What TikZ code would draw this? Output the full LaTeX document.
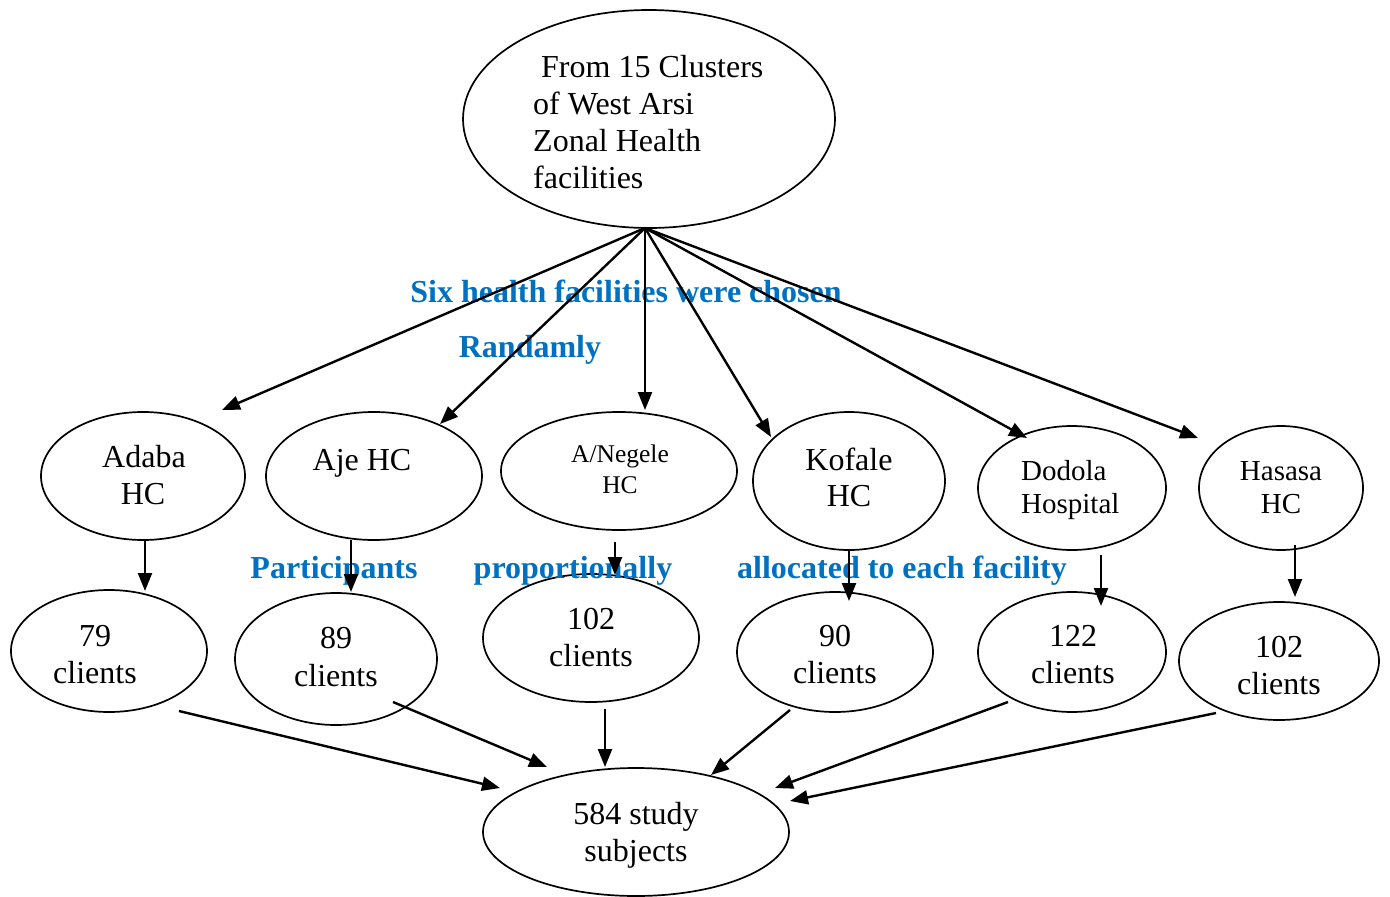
\documentclass[tikz,border=0pt]{standalone}
\usepackage{fontspec}
\setmainfont{Liberation Serif}
\usetikzlibrary{shapes.geometric,arrows.meta}
\definecolor{blu}{HTML}{0070C0}
\tikzset{
  ell/.style={draw,ellipse,line width=1.7pt,inner sep=0pt},
  txt/.style={font=\fontsize{32}{38}\selectfont, anchor=base, inner sep=0pt},
  txtw/.style={txt, anchor=base west},
  sml/.style={txt, font=\fontsize{25.5}{30}\selectfont},
  mid/.style={txt, font=\fontsize{29}{33}\selectfont},
  lbl/.style={font=\fontsize{32}{38}\selectfont\bfseries, text=blu, anchor=base, inner sep=0pt},
  arr/.style={line width=2.4pt, -{Triangle[length=18pt,width=14pt]}},
}
\begin{document}
\begin{tikzpicture}[x=1pt,y=-1pt]
\useasboundingbox (0,0) rectangle (1390,897);
% ellipses
\node[ell, minimum width=372pt, minimum height=218pt] (top) at (649,119) {};
\node[ell, minimum width=204pt, minimum height=128pt] (adaba) at (143,476) {};
\node[ell, minimum width=216pt, minimum height=128pt] (aje) at (374,476) {};
\node[ell, minimum width=236pt, minimum height=118pt] (negele) at (619,471) {};
\node[ell, minimum width=192pt, minimum height=138pt] (kofale) at (849,481) {};
\node[ell, minimum width=188pt, minimum height=124pt] (dodola) at (1072,488) {};
\node[ell, minimum width=164pt, minimum height=124pt] (hasasa) at (1281,488) {};
\node[ell, minimum width=196pt, minimum height=122pt] (c79) at (109,651) {};
\node[ell, minimum width=202pt, minimum height=132pt] (c89) at (336,659) {};
\node[ell, minimum width=216pt, minimum height=128pt] (c102a) at (591,638) {};
\node[ell, minimum width=196pt, minimum height=120pt] (c90) at (835,652) {};
\node[ell, minimum width=188pt, minimum height=120pt] (c122) at (1072,652) {};
\node[ell, minimum width=200pt, minimum height=118pt] (c102b) at (1279,661) {};
\node[ell, minimum width=306pt, minimum height=128pt] (total) at (636,832) {};
% texts
\node[txtw] (t1) at (541,77) {From 15 Clusters};
\node[txtw] (t2) at (533,114) {of West Arsi};
\node[txtw] (t3) at (533,151) {Zonal Health};
\node[txtw] (t4) at (533,188) {facilities};
\node[txt] (ad1) at (144,467) {Adaba};
\node[txt] (ad2) at (143,504) {HC};
\node[txt] (aj1) at (362,470) {Aje HC};
\node[sml] (ng1) at (620,462) {A/Negele};
\node[sml] (ng2) at (620,493) {HC};
\node[txt] (kf1) at (849,470) {Kofale};
\node[txt] (kf2) at (849,506) {HC};
\node[mid, anchor=base west] (dd1) at (1021,480) {Dodola};
\node[mid, anchor=base west] (dd2) at (1021,513) {Hospital};
\node[mid] (hs1) at (1281,480) {Hasasa};
\node[mid] (hs2) at (1281,513) {HC};
\node[txt] (n79a) at (95,646) {79};
\node[txt] (n79b) at (95,683) {clients};
\node[txt] (n89a) at (336,648) {89};
\node[txt] (n89b) at (336,686) {clients};
\node[txt] (n102a) at (591,629) {102};
\node[txt] (n102b) at (591,666) {clients};
\node[txt] (n90a) at (835,646) {90};
\node[txt] (n90b) at (835,683) {clients};
\node[txt] (n122a) at (1073,646) {122};
\node[txt] (n122b) at (1073,683) {clients};
\node[txt] (m102a) at (1279,657) {102};
\node[txt] (m102b) at (1279,694) {clients};
\node[txt] (s1) at (636,824) {584 study};
\node[txt] (s2) at (636,861) {subjects};
% blue labels
\node[lbl] (l1) at (626,302) {Six health facilities were chosen};
\node[lbl] (l2) at (530,357) {Randamly};
\node[lbl] (l3) at (334,578) {Participants};
\node[lbl] (l4) at (573,578) {proportionally};
\node[lbl] (l5) at (902,578) {allocated to each facility};
% connector coordinates
\coordinate (apex) at (645,228);
\coordinate (eAd) at (222,410);
\coordinate (eAj) at (440,424);
\coordinate (eNg) at (645,410);
\coordinate (eKf) at (771,437);
\coordinate (eDd) at (1027,438);
\coordinate (eHs) at (1198,438);
\coordinate (dAd1) at (145,541); \coordinate (dAd2) at (145,591);
\coordinate (dAj1) at (351,540); \coordinate (dAj2) at (351,592);
\coordinate (dNg1) at (615,542); \coordinate (dNg2) at (615,575);
\coordinate (dKf1) at (849,550); \coordinate (dKf2) at (849,601);
\coordinate (dDd1) at (1101,555); \coordinate (dDd2) at (1101,606);
\coordinate (dHs1) at (1295,545); \coordinate (dHs2) at (1295,597);
\coordinate (b1s) at (179,711); \coordinate (b1e) at (500,788);
\coordinate (b2s) at (393,702); \coordinate (b2e) at (547,767);
\coordinate (b3s) at (605,709); \coordinate (b3e) at (605,767);
\coordinate (b4s) at (790,710); \coordinate (b4e) at (711,775);
\coordinate (b5s) at (1008,702); \coordinate (b5e) at (775,788);
\coordinate (b6s) at (1216,713); \coordinate (b6e) at (790,801);
% connectors
\foreach \e in {eAd,eAj,eNg,eKf,eDd,eHs} \draw[arr] (apex) -- (\e);
\foreach \a in {Ad,Aj,Ng,Kf,Dd,Hs} \draw[arr] (d\a1) -- (d\a2);
\foreach \b in {1,...,6} \draw[arr] (b\b s) -- (b\b e);
\end{tikzpicture}
\end{document}
